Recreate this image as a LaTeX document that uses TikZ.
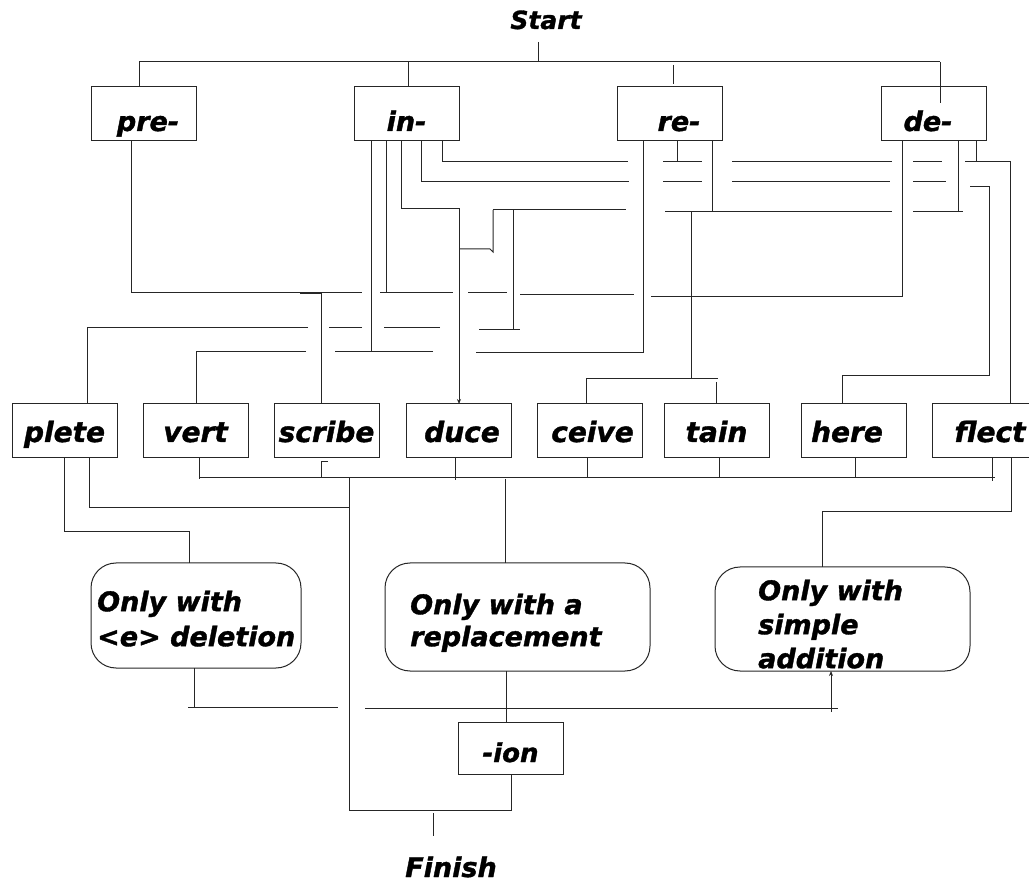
\documentclass[tikz,border=0pt]{standalone}
\usepackage{fontspec}
\setmainfont[BoldItalicFeatures={FakeBold=1.3}]{DejaVu Sans}
\usetikzlibrary{arrows.meta}
\tikzset{
  ln/.style={draw=black!85, line width=1pt},
  tip/.style={-{Stealth[length=5pt,width=4pt]}},
  namebox/.style={draw=black!85, line width=1pt, minimum width=105pt, minimum height=54pt, inner sep=0pt},
  topbox/.style={namebox, font=\fontsize{27}{30}\selectfont\bfseries\itshape, text height=35pt, text depth=1pt},
  botbox/.style={namebox, font=\fontsize{28}{30}\selectfont\bfseries\itshape, text height=24pt, text depth=2pt},
  ovalbox/.style={draw=black!85, line width=1pt, rounded corners=25pt, inner sep=0pt},
  ovtext/.style={anchor=north west, align=left, inner sep=0pt},
  endtext/.style={anchor=base, inner sep=0pt},
}
\begin{document}
\begin{tikzpicture}[x=1pt,y=-1pt]
\useasboundingbox (0,0) rectangle (1029,882);
% texts Start / Finish
\node[endtext, font=\fontsize{25}{27}\selectfont\bfseries\itshape] (start) at (546,29) {Start};
\node[endtext, font=\fontsize{27}{30}\selectfont\bfseries\itshape] (finish) at (451,877) {Finish};
% top boxes
\node[topbox] (pre) at (143.5,114) {\hspace*{9pt}pre-};
\node[topbox] (in) at (406.5,114) {in-};
\node[topbox] (re) at (669.5,114) {\hspace*{19pt}re-};
\node[topbox] (de) at (933.5,114) {de-\hspace*{11pt}};
% bottom boxes
\node[botbox] (plete) at (64.5,431) {plete};
\node[botbox] (vert) at (195.5,431) {vert};
\node[botbox] (scribe) at (326.5,431) {scribe};
\node[botbox] (duce) at (458.5,431) {\hspace*{7pt}duce};
\node[botbox] (ceive) at (590,431) {\hspace*{5pt}ceive};
\node[botbox] (tain) at (716.5,431) {tain};
\node[botbox] (here) at (853.5,431) {here\hspace*{13pt}};
\node[botbox] (flect) at (984.5,431) {\hspace*{11pt}flect};
% rounded boxes
\node[ovalbox, minimum width=210pt, minimum height=105pt] (del) at (196,615.5) {};
\node[ovalbox, minimum width=265pt, minimum height=108pt] (rep) at (517.5,617) {};
\node[ovalbox, minimum width=255pt, minimum height=104pt] (add) at (842.5,619) {};
\node[ovtext, font=\fontsize{27}{35}\selectfont\bfseries\itshape] (deltext) at (97,590.5) {Only with\\<e> deletion};
\node[ovtext, font=\fontsize{27}{32}\selectfont\bfseries\itshape] (reptext) at (410,593.5) {Only with a\\replacement};
\node[ovtext, font=\fontsize{27}{34}\selectfont\bfseries\itshape] (addtext) at (758,579.5) {Only with\\simple\\addition};
% -ion
\node[namebox, font=\fontsize{26}{28}\selectfont\bfseries\itshape, text height=29pt, text depth=1pt, minimum height=52pt] (ion) at (510.5,748) {-ion};

% ---- Start fan-out
\draw[ln] (538,42)--(538,62);
\draw[ln] (139,62)--(940,62);
\draw[ln] (139,62)--(139,87);
\draw[ln] (408,62)--(408,87);
\draw[ln] (673,65)--(673,84);
\draw[ln] (940,62)--(940,103);

% ---- pre- / de- line to scribe (y ~ 293)
\draw[ln] (131,141)--(131,293)--(362,293);
\draw[black!85, line width=2.5pt] (300,293)--(322,293);
\draw[ln] (321,293)--(321,404);
\draw[ln] (380,293)--(453,293);
\draw[ln] (468,293)--(507,293);
\draw[ln] (520,295)--(634,295);
\draw[ln] (651,297)--(902,297)--(902,141);

% ---- in- lines
\draw[ln] (371,141)--(371,352);
\draw[ln] (386,141)--(386,293);
\draw[ln,tip] (401,141)--(401,209)--(459,209)--(459,404);
\draw[ln] (421,141)--(421,182)--(629,182);
\draw[ln] (663,182)--(702,182);
\draw[ln] (732,182)--(890,182);
\draw[ln] (913,182)--(946,182);
\draw[ln] (970,187)--(989,187)--(989,376)--(842,376)--(842,404);
\draw[ln] (442,141)--(442,162)--(628,162);
\draw[ln] (663,162)--(702,162);
\draw[ln] (732,162)--(892,162);
\draw[ln] (913,162)--(942,162);
\draw[ln] (965,162)--(1010,162)--(1010,404);

% ---- re- lines
\draw[ln] (643,141)--(643,353)--(476,353);
\draw[ln] (433,352)--(335,352);
\draw[ln] (306,352)--(196,352)--(196,404);
\draw[ln] (677,141)--(677,162);
\draw[ln] (712,141)--(712,212);

% ---- de- lines
\draw[ln] (958,141)--(958,212);
\draw[ln] (976,141)--(976,162);

% ---- y ~ 210 line
\draw[ln] (493,210)--(626,210);
\draw[ln] (665,212)--(892,212);
\draw[ln] (913,212)--(963,212);
\draw[ln] (493,210)--(493,252)--(490,249)--(459,249);
\draw[ln] (513,210)--(513,330);
\draw[ln] (479,330)--(520,330);
\draw[ln] (440,328)--(384,328);
\draw[ln] (362,328)--(329,328);
\draw[ln] (308,328)--(87,328)--(87,404);
\draw[ln] (691,212)--(691,379);
\draw[ln] (586,404)--(586,379)--(718,379);
\draw[ln] (716,382)--(716,404);

% ---- bottom bus
\draw[ln] (199,458)--(199,479);
\draw[ln] (199,478)--(995,478);
\draw[ln] (328,462)--(321,462)--(321,478);
\draw[ln] (455,458)--(455,480);
\draw[ln] (587,458)--(587,478);
\draw[ln] (719,458)--(719,478);
\draw[ln] (855,458)--(855,478);
\draw[ln] (992,458)--(992,481);
\draw[ln] (349,478)--(349,810)--(511,810)--(511,774);
\draw[ln] (505,479)--(505,563);
\draw[ln] (89,458)--(89,508)--(349,508);
\draw[ln] (64,458)--(64,532)--(189,532)--(189,563);
\draw[ln] (1011,458)--(1011,512)--(822,512)--(822,567);

% ---- lower part
\draw[ln] (194,668)--(194,707)--(338,707);
\draw[ln] (188,707)--(194,707);
\draw[ln] (365,708)--(838,708);
\draw[ln,tip] (831,712)--(831,671);
\draw[ln] (506,671)--(506,722);
\draw[ln] (433,813)--(433,836);
\end{tikzpicture}
\end{document}
